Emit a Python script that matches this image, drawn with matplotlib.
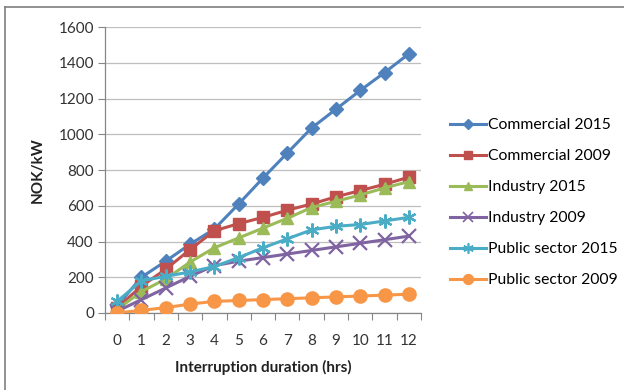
import matplotlib
matplotlib.use("Agg")
import matplotlib.pyplot as plt
from matplotlib.lines import Line2D
import numpy as np

hours = list(range(13))
commercial_2015 = [40, 200, 290, 385, 470, 610, 755, 895, 1035, 1140, 1245, 1345, 1450]
commercial_2009 = [30, 150, 245, 355, 460, 500, 535, 575, 610, 650, 685, 720, 760]
industry_2015 = [20, 120, 190, 285, 365, 420, 475, 530, 590, 625, 660, 700, 735]
industry_2009 = [10, 75, 140, 205, 265, 290, 310, 330, 350, 370, 390, 410, 430]
public_2015 = [65, 180, 205, 230, 260, 310, 365, 415, 465, 485, 495, 515, 535]
public_2009 = [0, 15, 30, 50, 65, 70, 75, 80, 85, 90, 95, 100, 105]

series_names = ["Commercial 2015", "Commercial 2009", "Industry 2015",
                "Industry 2009", "Public sector 2015", "Public sector 2009"]
series_values = [commercial_2015, commercial_2009, industry_2015,
                 industry_2009, public_2015, public_2009]
colors = ["#4F81BD", "#C0504D", "#9BBB59", "#8064A2", "#4BACC6", "#F79646"]
markers = ["D", "s", "^", "x", (6, 2, 0), "o"]
msizes = [7, 8.5, 8.5, 9.5, 10, 9.5]
y_ticks = [0, 200, 400, 600, 800, 1000, 1200, 1400, 1600]

plt.rcParams['font.family'] = ['Lato', 'DejaVu Sans']
fig = plt.figure(figsize=(6.24, 3.9), dpi=100)
W, H = 624, 390
ax = fig.add_axes([105 / W, 77 / H, (421 - 105) / W, (313 - 27) / H])

handles = []
for name, vals, c, m, ms in zip(series_names, series_values, colors, markers, msizes):
    filled = m not in ("x",) and not isinstance(m, tuple)
    ax.plot(hours, vals, color=c, lw=2.2, marker=m, markersize=ms,
            markerfacecolor=c, markeredgecolor=c,
            markeredgewidth=1.0 if filled else 1.6, label=name, zorder=3)
    handles.append(Line2D([], [], color=c, lw=2.2, marker=m,
                          markersize=ms * 0.75, markerfacecolor=c, markeredgecolor=c,
                          markeredgewidth=1.0 if filled else 1.2))

ax.set_xlim(-0.5, 12.5)
ax.set_ylim(0, 1600)
ax.set_yticks(y_ticks)
ax.set_xticks(hours)
ax.set_xticks(np.arange(-0.5, 13, 1), minor=True)
ax.tick_params(axis='x', which='major', length=0, pad=15, labelsize=11, colors='#333333')
ax.tick_params(axis='x', which='minor', length=5, color='#868686', width=0.8)
ax.tick_params(axis='y', length=5, color='#868686', width=0.8, labelsize=11,
               labelcolor='#333333', pad=3)
ax.grid(axis='y', color='#BEBEBE', lw=0.9, zorder=0)
ax.set_axisbelow(True)
for s in ("top", "right"):
    ax.spines[s].set_visible(False)
for s in ("left", "bottom"):
    ax.spines[s].set_color('#868686')
    ax.spines[s].set_linewidth(0.9)

ax.set_xlabel("Interruption duration (hrs)", fontsize=11, fontweight='bold',
              color='#222222', labelpad=9)
ax.set_ylabel("NOK/kW", fontsize=11, fontweight='bold', color='#222222', labelpad=10)

fig.legend(handles, series_names, loc='upper left', bbox_to_anchor=(444 / W, 1 - 112 / H),
           frameon=False, fontsize=11.3, handlelength=2.3, handletextpad=0.1,
           labelspacing=1.08, borderaxespad=0)

# outer chart frame
fig.add_artist(Line2D([5 / W, 1], [1 - 7 / H, 1 - 7 / H], color='#7F7F7F', lw=1.2,
                      transform=fig.transFigure))
fig.add_artist(Line2D([5 / W, 5 / W], [0, 1 - 7 / H], color='#7F7F7F', lw=1.2,
                      transform=fig.transFigure))

fig.savefig("out.png", dpi=100)
